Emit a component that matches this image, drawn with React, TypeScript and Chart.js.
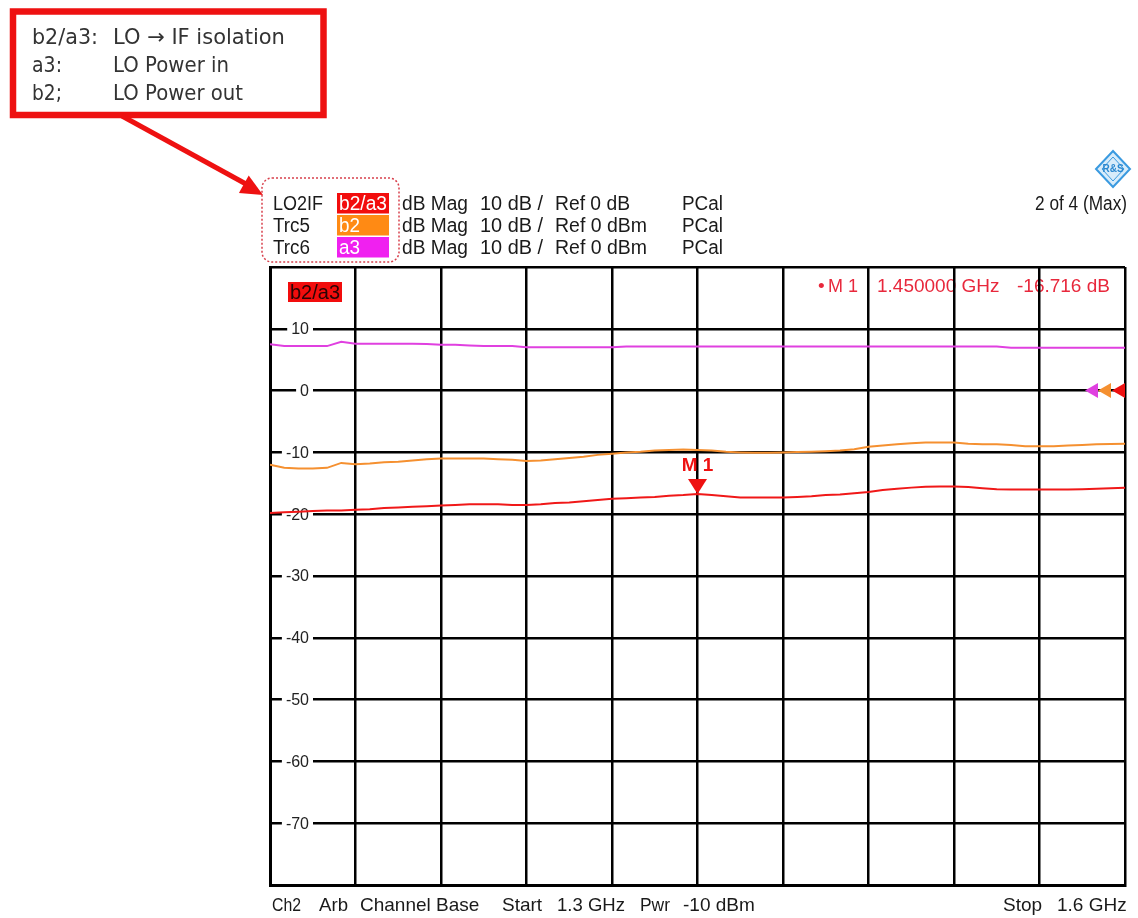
import { useEffect, useRef } from "react";
import { Chart, registerables } from "chart.js";

Chart.register(...registerables);

// Sweep points, 1.3 GHz to 1.6 GHz
const freqGHz = [
  1.300, 1.305, 1.310, 1.315, 1.320, 1.325, 1.330, 1.335, 1.340, 1.345,
  1.350, 1.355, 1.360, 1.365, 1.370, 1.375, 1.380, 1.385, 1.390, 1.395,
  1.400, 1.405, 1.410, 1.415, 1.420, 1.425, 1.430, 1.435, 1.440, 1.445,
  1.450, 1.455, 1.460, 1.465, 1.470, 1.475, 1.480, 1.485, 1.490, 1.495,
  1.500, 1.505, 1.510, 1.515, 1.520, 1.525, 1.530, 1.535, 1.540, 1.545,
  1.550, 1.555, 1.560, 1.565, 1.570, 1.575, 1.580, 1.585, 1.590, 1.595,
  1.600,
];

// LO2IF: b2/a3 (dB)
const b2a3 = [
  -19.8, -19.7, -19.6, -19.5, -19.4, -19.4, -19.3, -19.2, -19.0, -18.9,
  -18.8, -18.7, -18.6, -18.5, -18.4, -18.4, -18.4, -18.5, -18.5, -18.4,
  -18.2, -18.1, -17.9, -17.7, -17.5, -17.4, -17.3, -17.2, -17.0, -16.9,
  -16.716, -16.9, -17.1, -17.3, -17.3, -17.3, -17.3, -17.2, -17.1, -16.9,
  -16.8, -16.6, -16.4, -16.1, -15.9, -15.7, -15.55, -15.5, -15.5, -15.6,
  -15.8, -15.95, -16.0, -16.0, -16.0, -16.0, -16.0, -15.95, -15.9, -15.8,
  -15.7,
];

// Trc5: b2 (dBm)
const b2 = [
  -12.0, -12.5, -12.6, -12.6, -12.5, -11.7, -11.9, -11.8, -11.6, -11.5,
  -11.3, -11.1, -11.0, -11.0, -11.0, -11.0, -11.1, -11.2, -11.4, -11.3,
  -11.1, -10.9, -10.7, -10.4, -10.2, -10.0, -9.9, -9.7, -9.6, -9.55,
  -9.6, -9.7, -9.9, -10.0, -10.05, -10.05, -10.0, -9.95, -9.9, -9.8,
  -9.7, -9.5, -9.1, -8.9, -8.7, -8.5, -8.4, -8.4, -8.4, -8.6,
  -8.7, -8.7, -8.8, -9.0, -9.0, -9.0, -8.9, -8.8, -8.7, -8.65,
  -8.6,
];

// Trc6: a3 (dBm)
const a3 = [
  7.5, 7.2, 7.2, 7.2, 7.2, 7.9, 7.6, 7.6, 7.6, 7.6,
  7.6, 7.55, 7.4, 7.4, 7.3, 7.2, 7.2, 7.2, 7.0, 7.0,
  7.0, 7.0, 7.0, 7.0, 7.0, 7.15, 7.15, 7.15, 7.15, 7.15,
  7.15, 7.15, 7.15, 7.15, 7.15, 7.15, 7.15, 7.15, 7.15, 7.15,
  7.15, 7.15, 7.15, 7.15, 7.15, 7.15, 7.15, 7.15, 7.15, 7.15,
  7.15, 7.15, 6.95, 6.95, 6.95, 6.95, 6.95, 6.95, 6.95, 6.95,
  6.95,
];

const yTickLabels = [10, 0, -10, -20, -30, -40, -50, -60, -70];
const yMin = -80;
const yMax = 20;
const startGHz = 1.3;
const stopGHz = 1.6;
const markerFreq = 1.45;
const markerValue = -16.716;
const refLevel = 0;

const RED = "#f01818";
const ORANGE = "#f59030";
const MAGENTA = "#e040e0";
const BOX_RED = "#f20d0d";
const BOX_ORANGE = "#ff8a14";
const BOX_MAGENTA = "#f020f0";
const MARK_RED = "#e8283c";
const FONT = '"Liberation Sans", Arial, sans-serif';

function put(ctx: CanvasRenderingContext2D, s: string, x: number, y: number, w?: number) {
  if (w) ctx.fillText(s, x, y, w);
  else ctx.fillText(s, x, y);
}

const decorPlugin = {
  id: "vnaDecor",
  beforeDraw(chart: any) {
    const ctx: CanvasRenderingContext2D = chart.ctx;
    ctx.save();

    // explanation box
    ctx.strokeStyle = "#ee1111";
    ctx.lineWidth = 6.5;
    ctx.strokeRect(13, 11.5, 310.5, 103.5);
    ctx.fillStyle = "#333";
    ctx.font = '21px "DejaVu Sans", sans-serif';
    ctx.textBaseline = "middle";
    ctx.textAlign = "left";
    put(ctx, "b2/a3:", 32, 39, 66);
    put(ctx, "LO \u2192 IF isolation", 113, 39, 172);
    put(ctx, "a3:", 32, 67, 30);
    put(ctx, "LO Power in", 113, 67, 116);
    put(ctx, "b2;", 32, 95, 30);
    put(ctx, "LO Power out", 113, 95, 130);

    // arrow from box to trace list
    ctx.strokeStyle = "#ee1111";
    ctx.fillStyle = "#ee1111";
    ctx.lineWidth = 5;
    ctx.beginPath();
    ctx.moveTo(122, 116);
    ctx.lineTo(246, 184);
    ctx.stroke();
    const ang = Math.atan2(195 - 116, 263 - 122);
    ctx.beginPath();
    ctx.moveTo(263, 195);
    ctx.lineTo(263 - 22 * Math.cos(ang) + 10 * Math.sin(ang), 195 - 22 * Math.sin(ang) - 10 * Math.cos(ang));
    ctx.lineTo(263 - 22 * Math.cos(ang) - 10 * Math.sin(ang), 195 - 22 * Math.sin(ang) + 10 * Math.cos(ang));
    ctx.closePath();
    ctx.fill();

    // dotted frame around trace names
    ctx.strokeStyle = "#d8404c";
    ctx.lineWidth = 1.5;
    ctx.setLineDash([2, 2]);
    ctx.beginPath();
    (ctx as any).roundRect(262, 178, 137, 84, 10);
    ctx.stroke();
    ctx.setLineDash([]);

    // trace list header
    const rows = [
      { name: "LO2IF", w: 50, tag: "b2/a3", tagW: 48, box: BOX_RED, ref: "Ref 0 dB", refW: 75, y: 203 },
      { name: "Trc5", w: 37, tag: "b2", tagW: 21, box: BOX_ORANGE, ref: "Ref 0 dBm", refW: 92, y: 225 },
      { name: "Trc6", w: 37, tag: "a3", tagW: 21, box: BOX_MAGENTA, ref: "Ref 0 dBm", refW: 92, y: 247 },
    ];
    ctx.font = "20px " + FONT;
    for (const r of rows) {
      ctx.fillStyle = r.box;
      ctx.fillRect(337, r.y - 10, 52, 20.5);
      ctx.fillStyle = "#ffffff";
      put(ctx, r.tag, 339, r.y + 1, r.tagW);
      ctx.fillStyle = "#1a1a1a";
      put(ctx, r.name, 273, r.y + 1, r.w);
      put(ctx, "dB Mag", 402, r.y + 1, 66);
      put(ctx, "10 dB /", 480, r.y + 1, 63);
      put(ctx, r.ref, 555, r.y + 1, r.refW);
      put(ctx, "PCal", 682, r.y + 1, 41);
    }
    ctx.textAlign = "right";
    put(ctx, "2 of 4 (Max)", 1127, 204, 92);

    // logo
    ctx.save();
    ctx.translate(1113, 169);
    ctx.fillStyle = "#d8ecfa";
    ctx.strokeStyle = "#3a9ae0";
    ctx.lineWidth = 2;
    ctx.beginPath();
    ctx.moveTo(0, -18);
    ctx.lineTo(17, 0);
    ctx.lineTo(0, 18);
    ctx.lineTo(-17, 0);
    ctx.closePath();
    ctx.fill();
    ctx.stroke();
    ctx.lineWidth = 1;
    ctx.beginPath();
    ctx.moveTo(0, -12);
    ctx.lineTo(11, 0);
    ctx.lineTo(0, 12);
    ctx.lineTo(-11, 0);
    ctx.closePath();
    ctx.stroke();
    ctx.fillStyle = "#2a88d0";
    ctx.font = "bold 10px " + FONT;
    ctx.textAlign = "center";
    put(ctx, "R&S", 0, 0);
    ctx.restore();

    // footer
    ctx.textAlign = "left";
    ctx.fillStyle = "#1a1a1a";
    ctx.font = "19px " + FONT;
    const fy = 906;
    put(ctx, "Ch2", 272, fy, 29);
    put(ctx, "Arb", 319, fy, 29);
    put(ctx, "Channel Base", 360, fy, 124);
    put(ctx, "Start", 502, fy, 43);
    put(ctx, "1.3 GHz", 557, fy, 68);
    put(ctx, "Pwr", 640, fy, 30);
    put(ctx, "-10 dBm", 683, fy, 74);
    put(ctx, "Stop", 1003, fy, 40);
    put(ctx, "1.6 GHz", 1057, fy, 70);

    // marker readout
    ctx.fillStyle = MARK_RED;
    ctx.font = "19px " + FONT;
    const my = 287;
    put(ctx, "\u2022", 818, my);
    put(ctx, "M 1", 828, my, 30);
    put(ctx, markerFreq.toFixed(6) + " GHz", 877, my, 126);
    put(ctx, markerValue.toFixed(3) + " dB", 1017, my, 98);

    // active trace label in the diagram
    ctx.fillStyle = BOX_RED;
    ctx.fillRect(288, 282, 54, 20);
    ctx.fillStyle = "#2a0505";
    ctx.textAlign = "center";
    ctx.font = "20px " + FONT;
    put(ctx, "b2/a3", 315, 293, 52);

    ctx.restore();
  },
  beforeDatasetsDraw(chart: any) {
    const ctx: CanvasRenderingContext2D = chart.ctx;
    const y = chart.scales.y;
    ctx.save();
    ctx.font = "16px " + FONT;
    ctx.textAlign = "right";
    ctx.textBaseline = "middle";
    for (const v of yTickLabels) {
      const py = y.getPixelForValue(v);
      const s = String(v);
      const w = ctx.measureText(s).width;
      ctx.fillStyle = "#ffffff";
      ctx.fillRect(309 - w - 4, py - 3, w + 8, 6);
      ctx.fillStyle = "#222";
      put(ctx, s, 309, py + 1);
    }
    ctx.restore();
  },
  afterDatasetsDraw(chart: any) {
    const ctx: CanvasRenderingContext2D = chart.ctx;
    const xs = chart.scales.x;
    const ys = chart.scales.y;
    ctx.save();

    // marker M1
    const mx = xs.getPixelForValue(markerFreq);
    const my = ys.getPixelForValue(markerValue);
    ctx.fillStyle = "#ee1111";
    ctx.beginPath();
    ctx.moveTo(mx, my);
    ctx.lineTo(mx - 9.5, my - 15);
    ctx.lineTo(mx + 9.5, my - 15);
    ctx.closePath();
    ctx.fill();
    ctx.font = "bold 19px " + FONT;
    ctx.textAlign = "center";
    ctx.textBaseline = "middle";
    put(ctx, "M 1", mx, my - 28, 34);

    // reference level arrows on the right edge
    const ry = ys.getPixelForValue(refLevel);
    const right = chart.chartArea.right;
    const arrows = [
      { c: MAGENTA, tip: right - 40 },
      { c: ORANGE, tip: right - 27 },
      { c: "#ee1111", tip: right - 13 },
    ];
    for (const a of arrows) {
      ctx.fillStyle = a.c;
      ctx.beginPath();
      ctx.moveTo(a.tip, ry);
      ctx.lineTo(a.tip + 13, ry - 7.5);
      ctx.lineTo(a.tip + 13, ry + 7.5);
      ctx.closePath();
      ctx.fill();
    }
    ctx.restore();
  },
};

export default function App() {
  const ref = useRef<HTMLCanvasElement>(null);

  useEffect(() => {
    if (!ref.current) return;
    const toPts = (vals: number[]) => freqGHz.map((f, i) => ({ x: f, y: vals[i] }));
    const chart = new Chart(ref.current, {
      type: "line",
      data: {
        datasets: [
          { label: "a3", data: toPts(a3), borderColor: MAGENTA, borderWidth: 2, pointRadius: 0, tension: 0 },
          { label: "b2", data: toPts(b2), borderColor: ORANGE, borderWidth: 2, pointRadius: 0, tension: 0 },
          { label: "b2/a3", data: toPts(b2a3), borderColor: RED, borderWidth: 2, pointRadius: 0, tension: 0 },
        ],
      },
      options: {
        animation: false,
        responsive: false,
        devicePixelRatio: 1,
        layout: { padding: { left: 270, right: 13, top: 267, bottom: 33 } },
        plugins: { legend: { display: false }, tooltip: { enabled: false } },
        scales: {
          x: {
            type: "linear",
            min: startGHz,
            max: stopGHz,
            ticks: { display: false, count: 11 },
            grid: { color: "#000", lineWidth: 2.5, drawTicks: false },
            border: { display: true, color: "#000", width: 3 },
            afterFit: (s: any) => { s.height = 0; },
          },
          y: {
            min: yMin,
            max: yMax,
            ticks: { display: false, stepSize: 10 },
            grid: { color: "#000", lineWidth: 2.5, drawTicks: false },
            border: { display: true, color: "#000", width: 3 },
            afterFit: (s: any) => { s.width = 0; },
          },
        },
      } as any,
      plugins: [decorPlugin],
    });
    return () => chart.destroy();
  }, []);

  return (
    <div style={{ position: "fixed", left: 0, top: 0, width: 1138, height: 918, background: "#fff" }}>
      <canvas ref={ref} width={1138} height={918} />
    </div>
  );
}
